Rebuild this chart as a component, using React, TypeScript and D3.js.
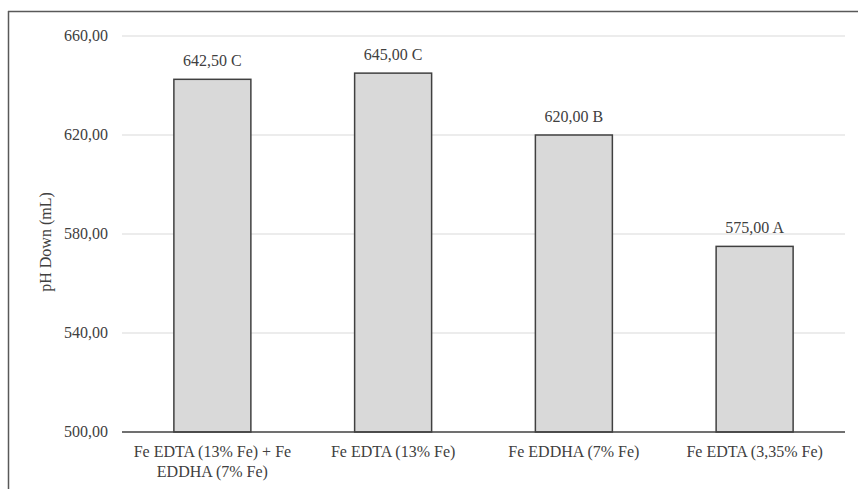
import React from "react";
import * as d3 from "d3";

const categories: string[][] = [
  ["Fe EDTA (13% Fe) + Fe", "EDDHA (7% Fe)"],
  ["Fe EDTA (13% Fe)"],
  ["Fe EDDHA (7% Fe)"],
  ["Fe EDTA (3,35% Fe)"],
];
const values: number[] = [642.5, 645.0, 620.0, 575.0];
const letters: string[] = ["C", "C", "B", "A"];
const yTicks: number[] = [500, 540, 580, 620, 660];
const yTitle = "pH Down (mL)";

const W = 858;
const H = 489;
const plotLeft = 122;
const plotRight = 845;
const plotTop = 36;
const plotBottom = 432;
const font = "Liberation Serif, Times New Roman, Times, serif";
const textColor = "#404040";

const fmt = (v: number) => v.toFixed(2).replace(".", ",");

export default function App() {
  const x = d3
    .scaleBand<number>()
    .domain(values.map((_, i) => i))
    .range([plotLeft, plotRight])
    .paddingInner(0.574)
    .paddingOuter(0.287);
  const y = d3.scaleLinear().domain([500, 660]).range([plotBottom, plotTop]);
  const ts = { fontFamily: font, fontSize: "16px" };

  return (
    <svg
      width={W}
      height={H}
      style={{ position: "absolute", left: 0, top: 0, background: "#fff" }}
    >
      <rect x={0} y={0} width={W} height={H} fill="#fff" />
      <line x1={8} y1={11.5} x2={W} y2={11.5} stroke="#595959" strokeWidth={1.5} />
      <line x1={8.5} y1={11} x2={8.5} y2={H} stroke="#595959" strokeWidth={1.5} />

      {yTicks.slice(1).map((t) => (
        <line
          key={t}
          x1={plotLeft}
          x2={plotRight}
          y1={y(t)}
          y2={y(t)}
          stroke="#d9d9d9"
          strokeWidth={1}
        />
      ))}

      {yTicks.map((t) => (
        <text key={t} x={108} y={y(t) + 5} textAnchor="end" style={ts} fill={textColor}>
          {fmt(t)}
        </text>
      ))}

      <text
        transform={`translate(51, ${(plotTop + plotBottom) / 2 + 8}) rotate(-90)`}
        textAnchor="middle"
        style={ts}
        fill={textColor}
      >
        {yTitle}
      </text>

      {values.map((v, i) => (
        <rect
          key={i}
          x={x(i)!}
          y={y(v)}
          width={x.bandwidth()}
          height={y(500) - y(v)}
          fill="#d9d9d9"
          stroke="#404040"
          strokeWidth={1.5}
        />
      ))}

      {values.map((v, i) => (
        <text
          key={i}
          x={x(i)! + x.bandwidth() / 2}
          y={y(v) - 13}
          textAnchor="middle"
          style={ts}
          fill={textColor}
        >
          {`${fmt(v)} ${letters[i]}`}
        </text>
      ))}

      <line
        x1={plotLeft}
        x2={plotRight}
        y1={plotBottom}
        y2={plotBottom}
        stroke="#404040"
        strokeWidth={1.5}
      />

      {categories.map((lines, i) => (
        <text
          key={i}
          x={x(i)! + x.bandwidth() / 2}
          y={457}
          textAnchor="middle"
          style={ts}
          fill={textColor}
        >
          {lines.map((l, j) => (
            <tspan key={j} x={x(i)! + x.bandwidth() / 2} dy={j === 0 ? 0 : 20}>
              {l}
            </tspan>
          ))}
        </text>
      ))}
    </svg>
  );
}
